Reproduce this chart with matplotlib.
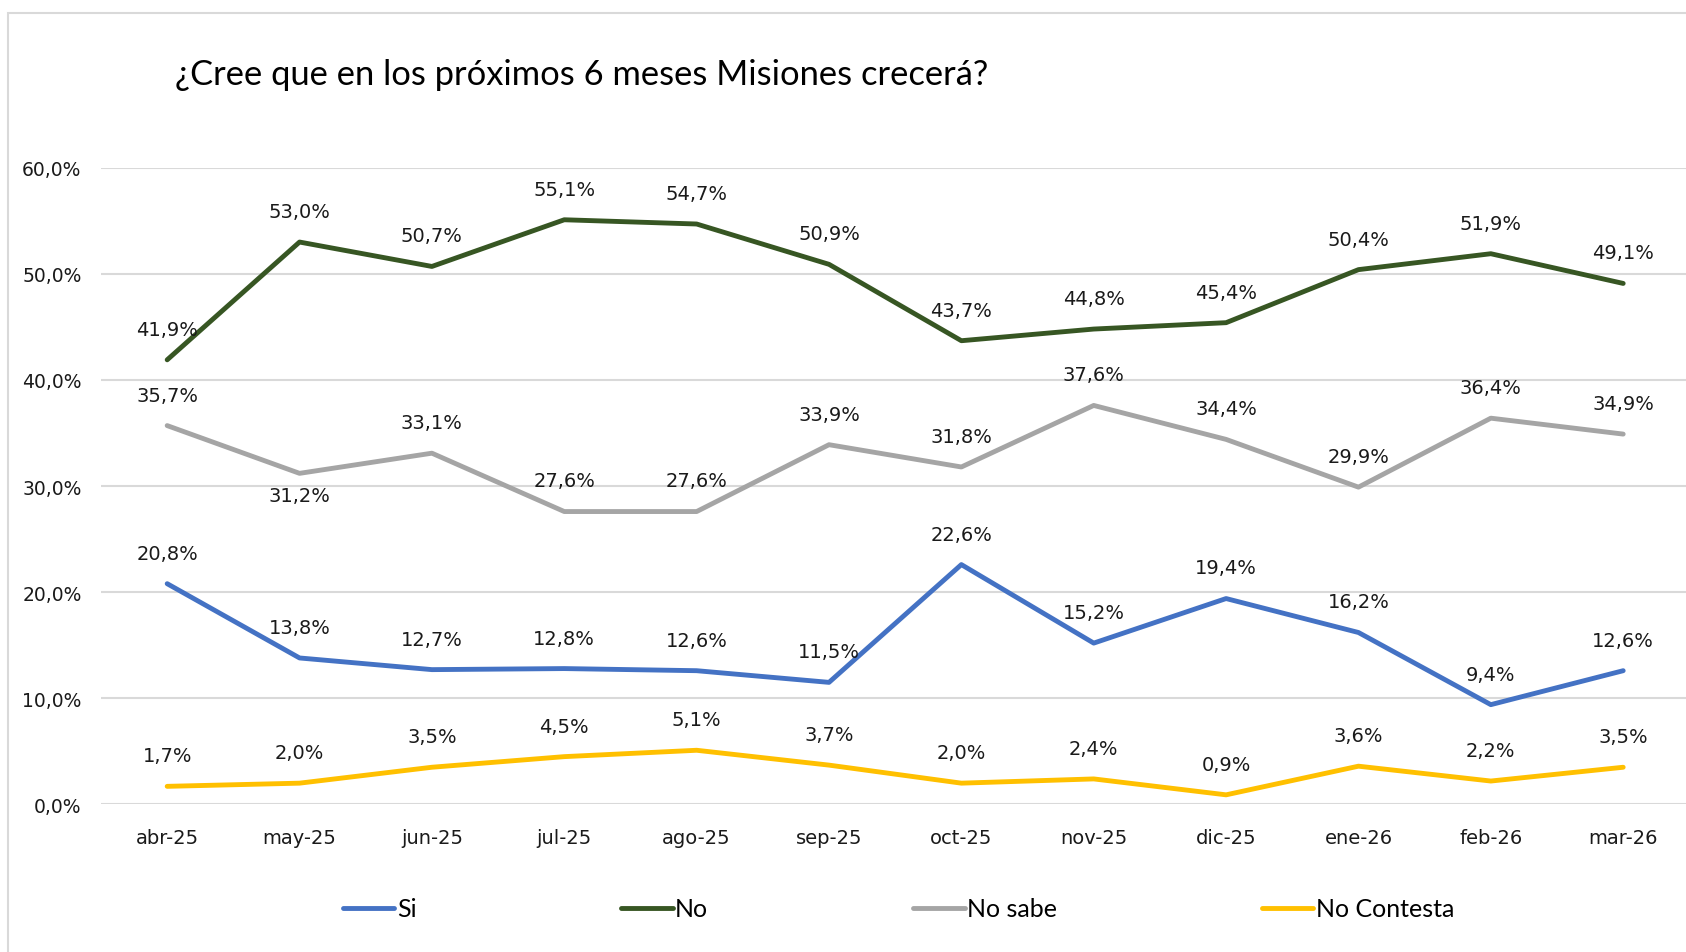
import matplotlib.pyplot as plt
from matplotlib.patches import Rectangle

months = ['abr-25', 'may-25', 'jun-25', 'jul-25', 'ago-25', 'sep-25',
          'oct-25', 'nov-25', 'dic-25', 'ene-26', 'feb-26', 'mar-26']
si = [20.8, 13.8, 12.7, 12.8, 12.6, 11.5, 22.6, 15.2, 19.4, 16.2, 9.4, 12.6]
no = [41.9, 53.0, 50.7, 55.1, 54.7, 50.9, 43.7, 44.8, 45.4, 50.4, 51.9, 49.1]
no_sabe = [35.7, 31.2, 33.1, 27.6, 27.6, 33.9, 31.8, 37.6, 34.4, 29.9, 36.4, 34.9]
no_contesta = [1.7, 2.0, 3.5, 4.5, 5.1, 3.7, 2.0, 2.4, 0.9, 3.6, 2.2, 3.5]

series = [
    ('Si', si, '#4472C4'),
    ('No', no, '#375623'),
    ('No sabe', no_sabe, '#A5A5A5'),
    ('No Contesta', no_contesta, '#FFC000'),
]

# labels that sit below the point instead of above
below = {('No sabe', 1)}

fig = plt.figure(figsize=(16.86, 9.53), dpi=100)
fig.patches.append(Rectangle((8 / 1686, -0.1), 1.2, (953 - 14) / 953 + 0.1,
                             transform=fig.transFigure, fill=False,
                             edgecolor='#D9D9D9', linewidth=1.5))

ax = fig.add_axes([101 / 1686, 0.1549, 1 - 101 / 1686 + 0.002, 0.668])
x = list(range(len(months)))
for name, vals, col in series:
    ax.plot(x, vals, color=col, linewidth=3.5, label=name, solid_capstyle='round')
    for i, v in enumerate(vals):
        off = -16 if (name, i) in below else 22
        ax.annotate(f'{v:.1f}%'.replace('.', ','), (i, v), xytext=(0, off),
                    textcoords='offset points', ha='center', va='center',
                    fontsize=14, color='#1a1a1a')

ax.set_xlim(-0.5, 11.5)
ax.set_ylim(0, 60)
ax.set_yticks(range(0, 61, 10))
ax.set_yticklabels([f'{t},0%' for t in range(0, 61, 10)], fontsize=13.5)
ax.set_xticks(x)
ax.set_xticklabels(months, fontsize=14)
ax.tick_params(length=0, colors='#1a1a1a')
ax.tick_params(axis='x', pad=17)
ax.tick_params(axis='y', pad=14)
ax.grid(axis='y', color='#D9D9D9', linewidth=1.5)
ax.set_axisbelow(True)
for s in ax.spines.values():
    s.set_visible(False)

fig.text(175 / 1686, 1 - 75 / 953, '¿Cree que en los próximos 6 meses Misiones crecerá?',
         fontsize=24.8, family='Lato', va='center', ha='left')

fig.legend(loc='center', bbox_to_anchor=(0.533, 1 - 910 / 953), ncol=4,
           frameon=False, prop={'family': 'Lato', 'size': 18},
           handlelength=2.05, handletextpad=0.1, columnspacing=8.2)

fig.savefig('out.png', dpi=100)
